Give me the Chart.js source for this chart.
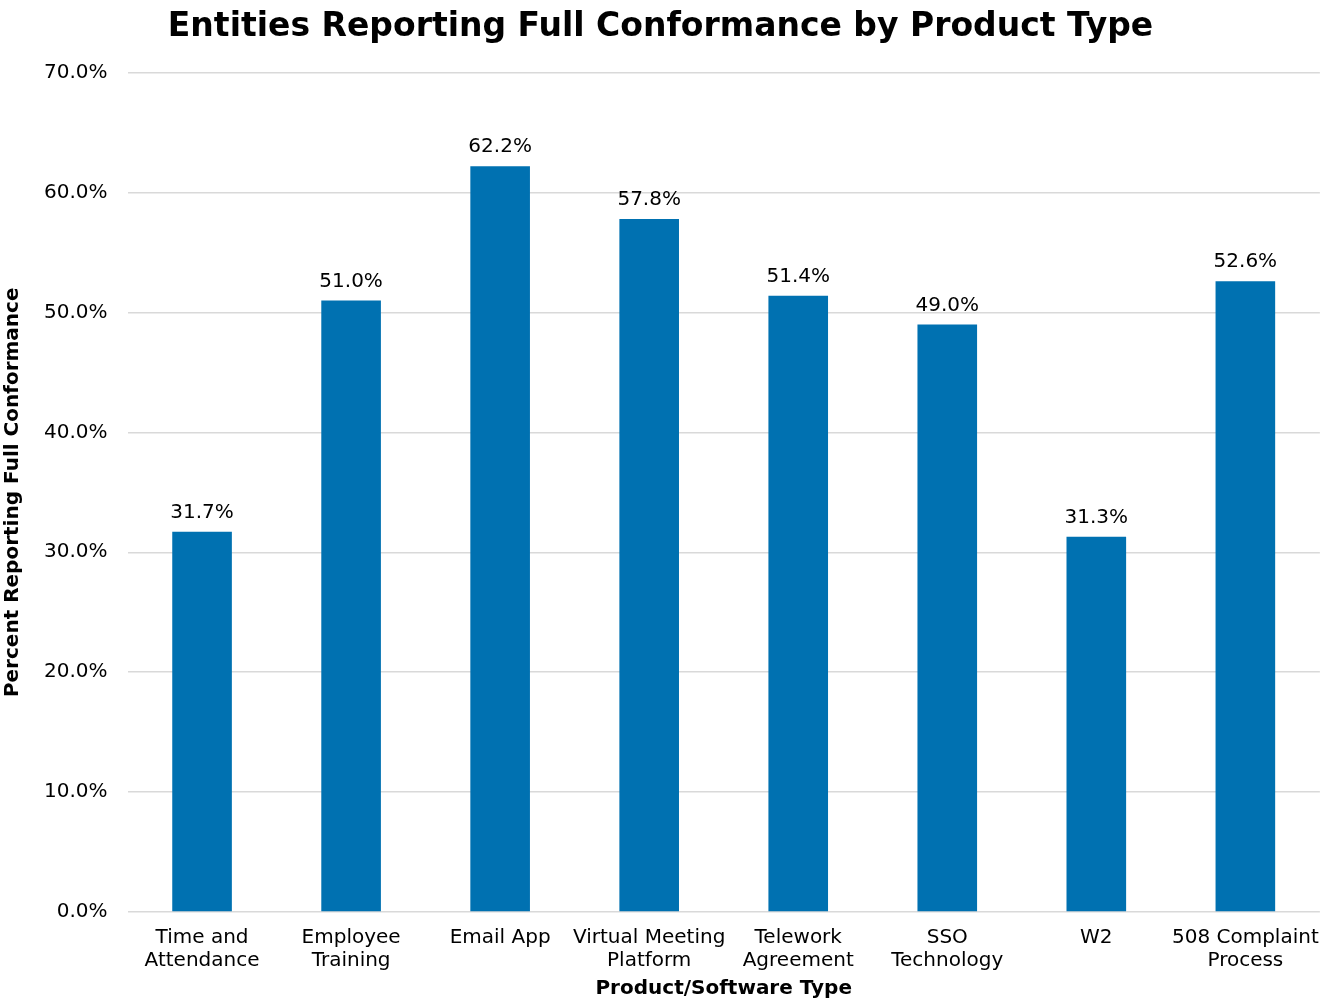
<!DOCTYPE html>
<html>
<head>
<meta charset="utf-8">
<script src="https://cdn.jsdelivr.net/npm/chart.js@4.4.0/dist/chart.umd.min.js"></script>
<style>
  html, body { margin: 0; padding: 0; background: #fff; }
  #wrap { width: 1325px; height: 1002px; }
</style>
</head>
<body>
<div id="wrap"><canvas id="chart"></canvas></div>
<script>
// data //
const categories = [
  ["Time and", "Attendance"],
  ["Employee", "Training"],
  ["Email App"],
  ["Virtual Meeting", "Platform"],
  ["Telework", "Agreement"],
  ["SSO", "Technology"],
  ["W2"],
  ["508 Complaint", "Process"]
];
const conformance = [31.7, 51.0, 62.2, 57.8, 51.4, 49.0, 31.3, 52.6];
const yTicks = [0, 10, 20, 30, 40, 50, 60, 70];

const FONT = "'DejaVu Sans', Verdana, sans-serif";

// labels above bars
const barLabels = {
  id: 'barLabels',
  afterDatasetsDraw(chart) {
    const ctx = chart.ctx;
    const meta = chart.getDatasetMeta(0);
    ctx.save();
    ctx.font = "20px " + FONT;
    ctx.fillStyle = "#000";
    ctx.textAlign = "center";
    ctx.textBaseline = "bottom";
    meta.data.forEach((bar, i) => {
      ctx.fillText(conformance[i].toFixed(1) + "%", bar.x, bar.y - 9);
    });
    ctx.restore();
  }
};

const ctx = document.querySelector('#chart').getContext('2d');
new Chart(ctx, {
  type: 'bar',
  data: {
    labels: categories,
    datasets: [{
      data: conformance,
      backgroundColor: '#0071b1',
      categoryPercentage: 1,
      barPercentage: 0.4
    }]
  },
  options: {
    responsive: true,
    maintainAspectRatio: false,
    animation: false,
    layout: { padding: { left: 0, right: 4, top: 0, bottom: 2 } },
    plugins: {
      legend: { display: false },
      tooltip: { enabled: false },
      title: {
        display: true,
        text: 'Entities Reporting Full Conformance by Product Type',
        color: '#000',
        font: { family: FONT, size: 33, weight: 'bold' },
        padding: { top: 8, bottom: 25 }
      }
    },
    scales: {
      x: {
        grid: { display: false },
        border: { display: false },
        ticks: {
          color: '#000',
          font: { family: FONT, size: 20, lineHeight: 1.15 },
          maxRotation: 0,
          autoSkip: false,
          padding: 6
        },
        title: {
          display: true,
          text: 'Product/Software Type',
          color: '#000',
          font: { family: FONT, size: 20, weight: 'bold', lineHeight: 1.1 },
          padding: { top: 0, bottom: 0 }
        }
      },
      y: {
        min: 0,
        max: 70,
        afterBuildTicks(axis) {
          axis.ticks = yTicks.map(v => ({ value: v }));
        },
        grid: { color: '#d9d9d9', lineWidth: 1.5, drawTicks: false },
        border: { display: false },
        ticks: {
          color: '#000',
          font: { family: FONT, size: 20 },
          padding: 20,
          callback: v => v.toFixed(1) + '%'
        },
        title: {
          display: true,
          text: 'Percent Reporting Full Conformance',
          color: '#000',
          font: { family: FONT, size: 20, weight: 'bold', lineHeight: 1.1 },
          padding: { top: 2, bottom: 0 }
        }
      }
    }
  },
  plugins: [barLabels]
});
</script>
</body>
</html>
